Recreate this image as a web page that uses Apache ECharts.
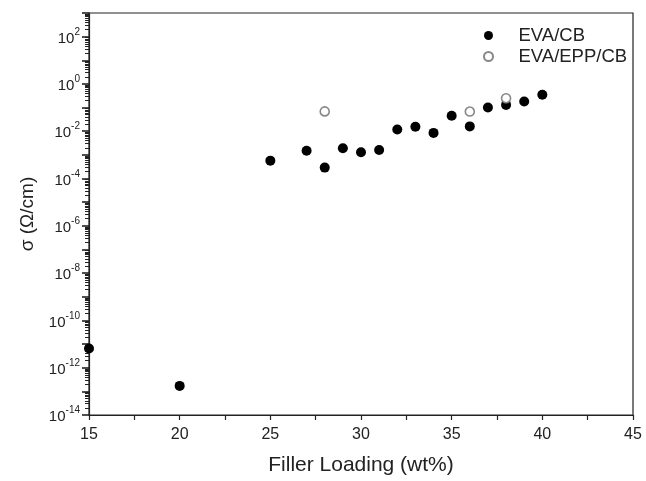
<!DOCTYPE html>
<html>
<head>
<meta charset="utf-8">
<script src="https://cdn.jsdelivr.net/npm/echarts@6/dist/echarts.min.js"></script>
<style>
  html, body { margin: 0; padding: 0; background: #fff; }
  #chart { width: 646px; height: 481px; }
</style>
</head>
<body>
<div id="chart"></div>
<script>
// filler loading (wt%) and conductivity values
const evaCbX = [15, 20, 25, 27, 28, 29, 30, 31, 32, 33, 34, 35, 36, 37, 38, 39, 40];
const evaCbY = [6.5e-12, 1.7e-13, 5.7e-4, 1.5e-3, 2.9e-4, 1.9e-3, 1.3e-3, 1.6e-3, 0.0118, 0.0155, 0.0085, 0.045, 0.016, 0.10, 0.13, 0.18, 0.35];
const eppX = [28, 36, 38];
const eppY = [0.069, 0.068, 0.25];
const xTicks = [15, 20, 25, 30, 35, 40, 45];

const chart = echarts.init(document.getElementById('chart'));
const font = 'Liberation Sans, Arial, sans-serif';

function pairs(xs, ys) {
    return xs.map((x, i) => [x, ys[i]]);
}

chart.setOption({
    animation: false,
    textStyle: { fontFamily: font },
    grid: {
        left: 89, right: 13, top: 13, bottom: 65,
        show: true, borderColor: '#222', borderWidth: 1.2
    },
    legend: {
        orient: 'vertical',
        left: 478, top: 21,
        itemGap: 2,
        itemWidth: 50, itemHeight: 9,
        textStyle: { fontSize: 18.5, lineHeight: 18, color: '#222', fontFamily: font },
        data: ['EVA/CB', 'EVA/EPP/CB']
    },
    xAxis: {
        type: 'value',
        min: xTicks[0], max: xTicks[xTicks.length - 1], interval: 5,
        name: 'Filler Loading (wt%)',
        nameLocation: 'middle', nameGap: 40,
        nameTextStyle: { fontSize: 21, color: '#222' },
        splitLine: { show: false },
        axisLine: { lineStyle: { color: '#222', width: 1.2 } },
        axisTick: { length: 5, lineStyle: { color: '#222', width: 1.2 } },
        minorTick: { show: true, splitNumber: 2, length: 5, lineStyle: { color: '#222', width: 1.2 } },
        axisLabel: { fontSize: 16, color: '#222', margin: 12 }
    },
    yAxis: {
        type: 'log', logBase: 10,
        min: 1e-14, max: 1e3, interval: 1,
        name: 'σ (Ω/cm)',
        nameLocation: 'middle', nameGap: 52,
        nameTextStyle: { fontSize: 19, color: '#222' },
        splitLine: { show: false },
        axisLine: { lineStyle: { color: '#222', width: 1.2 } },
        axisTick: { length: 7, lineStyle: { color: '#222', width: 1.6 } },
        minorTick: { show: true, splitNumber: 9, length: 4, lineStyle: { color: '#222', width: 1 } },
        axisLabel: {
            margin: 9,
            formatter: function (v) {
                const e = Math.round(Math.log10(v));
                if (e % 2 !== 0 || e > 2) return '';
                return '{b|10}{s|' + e + '}';
            },
            rich: {
                b: { fontSize: 15, color: '#222', verticalAlign: 'bottom', lineHeight: 19 },
                s: { fontSize: 10, color: '#222', verticalAlign: 'top', lineHeight: 19 }
            }
        }
    },
    series: [
        {
            name: 'EVA/CB',
            type: 'scatter',
            symbol: 'circle',
            symbolSize: 10,
            itemStyle: { color: '#000', opacity: 1 },
            data: pairs(evaCbX, evaCbY),
            z: 2
        },
        {
            name: 'EVA/EPP/CB',
            type: 'scatter',
            symbol: 'circle',
            symbolSize: 9,
            itemStyle: { color: '#fff', borderColor: '#888', borderWidth: 1.6, opacity: 1 },
            data: pairs(eppX, eppY),
            z: 3
        }
    ]
});
</script>
</body>
</html>
